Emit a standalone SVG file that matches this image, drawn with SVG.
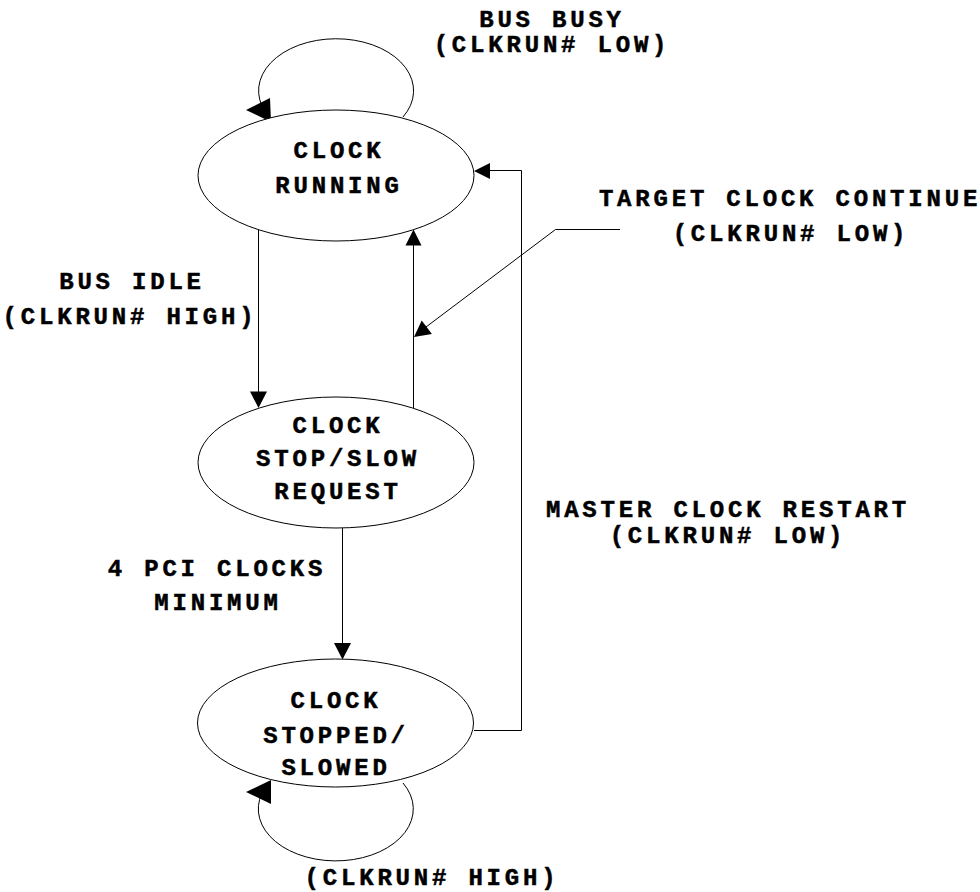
<svg xmlns="http://www.w3.org/2000/svg" width="980" height="892" viewBox="0 0 980 892">
  <style>
    .state { fill: #ffffff; stroke: #000000; stroke-width: 1; }
    .wire { fill: none; stroke: #000000; stroke-width: 1; }
    .head { fill: #000000; stroke: none; }
    text { font-family: "Liberation Mono", "Courier New", monospace; font-weight: bold; font-size: 24px; letter-spacing: 3.8px; fill: #000000; stroke: #000000; stroke-width: 0.5px; text-anchor: middle; }
  </style>
  <rect width="980" height="892" fill="#ffffff"/>

  <!-- transitions -->
  <g id="connectors">
    <!-- bus busy self-loop -->
    <path class="wire" d="M 403 117 A 77.5 52 0 1 0 262 106"/>
    <polygon class="head" points="246,110 270,98 271,122"/>
    <!-- bus idle: running -> stop/slow request -->
    <line class="wire" x1="258.5" y1="229" x2="258.5" y2="392"/>
    <polygon class="head" points="258.5,408 250,391.5 267,391.5"/>
    <!-- back to running -->
    <line class="wire" x1="413.5" y1="408" x2="413.5" y2="245"/>
    <polygon class="head" points="413.5,229.5 405.5,245.5 421.5,245.5"/>
    <!-- target clock continue leader -->
    <polyline class="wire" points="620,229.5 555.5,229.5 426,327"/>
    <polygon class="head" points="414,337 421.7,320.5 431.9,334.1"/>
    <!-- 4 PCI clocks minimum -->
    <line class="wire" x1="342.5" y1="528" x2="342.5" y2="643"/>
    <polygon class="head" points="342.5,659.5 334,643 351,643"/>
    <!-- master clock restart -->
    <polyline class="wire" points="474,730.5 521.5,730.5 521.5,170.5 490,170.5"/>
    <polygon class="head" points="474,171 490,163 490,179"/>
    <!-- CLKRUN# high self-loop -->
    <path class="wire" d="M 403 783 A 77.5 52 0 1 1 262 793"/>
    <polygon class="head" points="246,792 271,780 271,804"/>
  </g>

  <g id="state-running">
    <ellipse class="state" cx="336" cy="175.5" rx="138" ry="65.5"/>
    <text x="339" y="158">CLOCK</text>
    <text x="339" y="193">RUNNING</text>
  </g>

  <g id="state-request">
    <ellipse class="state" cx="336" cy="462.5" rx="138" ry="65.5"/>
    <text x="338" y="433">CLOCK</text>
    <text x="338" y="466">STOP/SLOW</text>
    <text x="338" y="499">REQUEST</text>
  </g>

  <g id="state-stopped">
    <ellipse class="state" cx="335.5" cy="723" rx="138" ry="64"/>
    <text x="336" y="708">CLOCK</text>
    <text x="336" y="743">STOPPED/</text>
    <text x="336" y="775">SLOWED</text>
  </g>

  <g id="labels">
    <text x="552" y="27">BUS BUSY</text>
    <text x="552" y="52">(CLKRUN# LOW)</text>
    <text x="790" y="206">TARGET CLOCK CONTINUE</text>
    <text x="791" y="241">(CLKRUN# LOW)</text>
    <text x="132" y="289">BUS IDLE</text>
    <text x="130" y="324">(CLKRUN# HIGH)</text>
    <text x="728" y="517">MASTER CLOCK RESTART</text>
    <text x="728" y="543">(CLKRUN# LOW)</text>
    <text x="217" y="576">4 PCI CLOCKS</text>
    <text x="218" y="610">MINIMUM</text>
    <text x="432" y="885">(CLKRUN# HIGH)</text>
  </g>
</svg>
